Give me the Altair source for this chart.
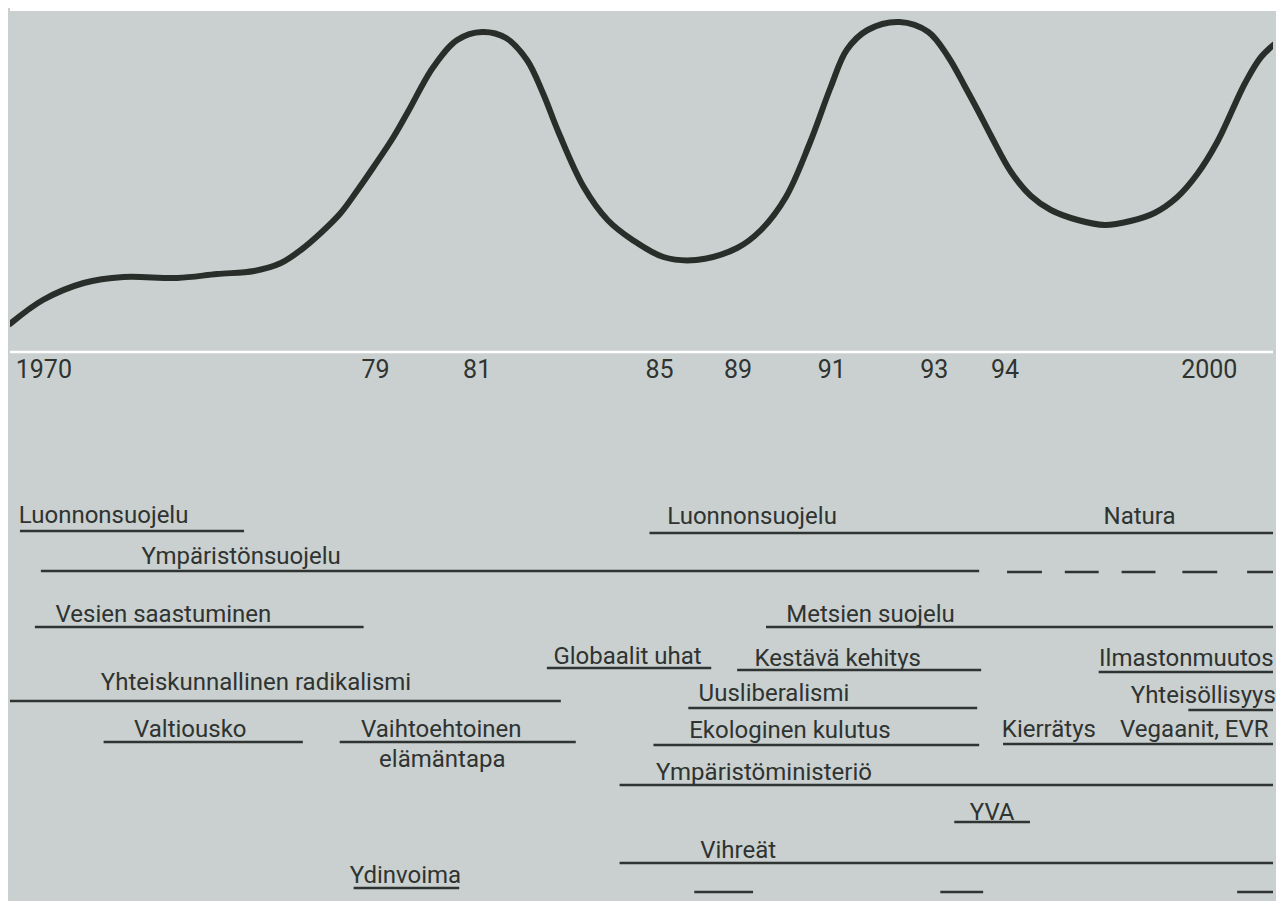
import altair as alt
import pandas as pd

BG = "#c9d0cf"
INK = "#2f3331"
FONT = "Roboto"

# Curve: timeline position (x) and height above the white baseline (level)
curve_x = [8, 41, 82, 122, 176, 216, 253, 280, 300, 320, 340, 357, 373, 393, 408, 433,
           457, 482, 506, 527, 543, 559, 584, 608, 633, 664, 697, 738, 762, 787, 811,
           832, 848, 869, 901, 930, 950, 967, 980, 993, 1013, 1033, 1053, 1080, 1107,
           1133, 1157, 1180, 1200, 1220, 1248, 1264, 1280]
curve_level = [28, 52, 69, 75, 74, 78, 81, 89, 102, 119, 139, 162, 185, 215, 241, 285,
               312, 320, 314, 292, 259, 219, 165, 132, 112, 95, 92, 104, 122, 155, 209,
               265, 302, 322, 330, 320, 295, 265, 241, 216, 180, 156, 142, 132, 127,
               131, 139, 155, 178, 210, 269, 295, 310]

# Year labels along the baseline
year_labels = ["1970", "79", "81", "85", "89", "91", "93", "94", "2000"]
year_pos = [42, 375, 477, 660, 739, 833, 936, 1007, 1212]
year_level = -26

# Topic labels (timeline position of text centre, text baseline level)
topic_labels = ["Luonnonsuojelu", "Ympäristönsuojelu", "Vesien saastuminen",
                "Yhteiskunnallinen radikalismi", "Valtiousko", "Vaihtoehtoinen",
                "elämäntapa", "Ydinvoima", "Globaalit uhat", "Luonnonsuojelu", "Natura",
                "Metsien suojelu", "Kestävä kehitys", "Ilmastonmuutos", "Uusliberalismi",
                "Yhteisöllisyys", "Ekologinen kulutus", "Kierrätys", "Vegaanit, EVR",
                "Ympäristöministeriö", "YVA", "Vihreät"]
topic_pos = [102, 240, 162, 255, 189, 441, 442, 405, 628, 753, 1142, 872, 839, 1189,
             775, 1206, 791, 1051, 1197, 765, 994, 739]
topic_level = [-171, -212, -270, -338, -385, -385, -415, -531, -312, -172, -172, -270,
               -314, -314, -349, -351, -386, -385, -385, -428, -468, -506]

# Underlines: start, end, level
line_start = [18, 39, 1009, 1067, 1124, 1185, 1250, 33, 6, 102, 339, 353, 547, 650, 767,
              738, 1101, 689, 1191, 654, 1005, 620, 956, 620, 695, 942, 1240]
line_end = [243, 981, 1044, 1101, 1158, 1220, 1284, 363, 561, 302, 576, 459, 712, 1284,
            1284, 983, 1284, 979, 1284, 981, 1284, 1284, 1032, 1284, 754, 985, 1284]
line_level = [-179, -219, -220, -220, -220, -220, -220, -275, -349, -390, -390, -536,
              -316, -181, -275, -318, -320, -356, -358, -393, -392, -433, -470, -511,
              -540, -540, -540]

W, H = 1268, 893
xs = alt.Scale(domain=[8, 1276], nice=False, zero=False)
ys = alt.Scale(domain=[-549, 344], nice=False, zero=False)

curve_df = pd.DataFrame({"x": curve_x, "v": curve_level})
year_df = pd.DataFrame({"label": year_labels, "x": year_pos, "v": [year_level] * len(year_pos)})
topic_df = pd.DataFrame({"label": topic_labels, "x": topic_pos, "v": topic_level})
line_df = pd.DataFrame({"x": line_start, "x2": line_end, "v": line_level})

top_strip = alt.Chart(pd.DataFrame({"a": [0]})).mark_rect(color="white").encode(
    x=alt.value(0), x2=alt.value(W), y=alt.value(0), y2=alt.value(3))

baseline = alt.Chart(pd.DataFrame({"a": [0]})).mark_rule(color="white", strokeWidth=2.5).encode(
    y=alt.Y("a:Q", scale=ys, axis=None))

curve = alt.Chart(curve_df).mark_line(
    color="#2a2e2b", strokeWidth=6, interpolate="catmull-rom", strokeCap="round", clip=True
).encode(
    x=alt.X("x:Q", scale=xs, axis=None),
    y=alt.Y("v:Q", scale=ys, axis=None),
)

years = alt.Chart(year_df).mark_text(
    font=FONT, fontSize=25, color=INK, align="center", baseline="alphabetic"
).encode(
    x=alt.X("x:Q", scale=xs, axis=None),
    y=alt.Y("v:Q", scale=ys, axis=None),
    text="label:N",
)

topics = alt.Chart(topic_df).mark_text(
    font=FONT, fontSize=24, color=INK, align="center", baseline="alphabetic"
).encode(
    x=alt.X("x:Q", scale=xs, axis=None),
    y=alt.Y("v:Q", scale=ys, axis=None),
    text="label:N",
)

lines = alt.Chart(line_df).mark_rule(color=INK, strokeWidth=2.5, clip=True).encode(
    x=alt.X("x:Q", scale=xs, axis=None),
    x2="x2:Q",
    y=alt.Y("v:Q", scale=ys, axis=None),
)

chart = alt.layer(top_strip, baseline, curve, years, topics, lines).properties(
    width=W, height=H, background=BG, padding=0,
    autosize=alt.AutoSizeParams(type="fit", contains="padding"),
).configure_view(stroke=None)

chart.save("out.html", embed_options={"renderer": "svg", "actions": False})
